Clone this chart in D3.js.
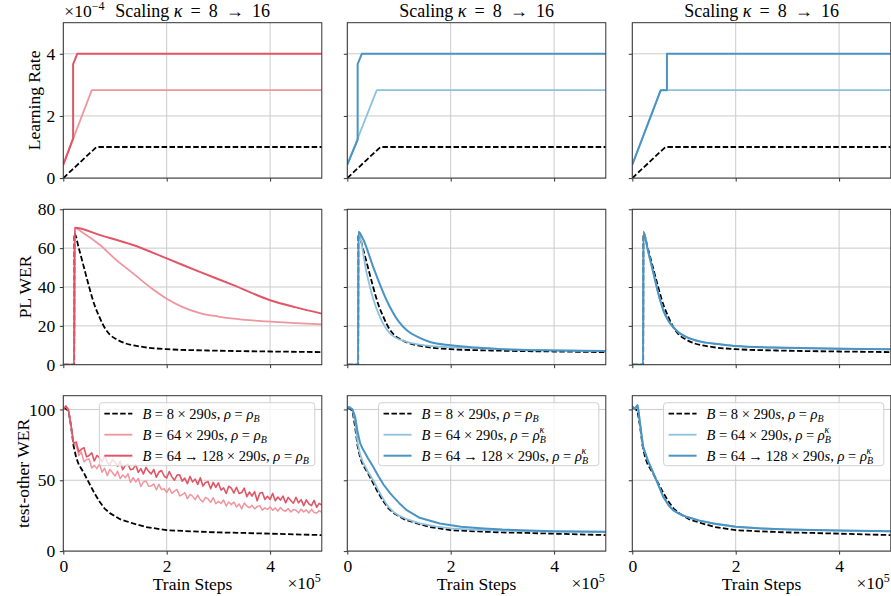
<!DOCTYPE html>
<html>
<head>
<meta charset="utf-8">
<script src="https://cdnjs.cloudflare.com/ajax/libs/d3/7.8.5/d3.min.js"></script>
<style>
	body { margin: 0; background: #fff; }
</style>
</head>
<body>
<div class="chart"></div>
<script>
	// ---- data (x in units of 1e5 train steps) ----

	// row 1: learning rate (x 1e-4)
	var lrBaseX = [0, 0.64, 5];
	var lrBaseY = [0, 1.0, 1.0];
	var lrRedLightX = [0, 0.55, 5];
	var lrRedLightY = [0.43, 2.83, 2.83];
	var lrRedDarkX = [0, 0.19, 0.19, 0.27, 5];
	var lrRedDarkY = [0.43, 1.28, 3.67, 4.0, 4.0];
	var lrBlueLightX = [0, 0.57, 5];
	var lrBlueLightY = [0.43, 2.83, 2.83];
	var lrBlueDarkX = [0, 0.2, 0.2, 0.28, 5];
	var lrBlueDarkY = [0.43, 1.23, 3.67, 4.0, 4.0];
	var lrLateLightX = [0, 0.55, 5];
	var lrLateLightY = [0.43, 2.83, 2.83];
	var lrLateDarkX = [0, 0.55, 0.67, 0.67, 5];
	var lrLateDarkY = [0.43, 2.83, 2.83, 4.0, 4.0];

	// row 2: PL WER
	var plBaseX = [0, 0.21, 0.215, 0.3, 0.4, 0.5, 0.6, 0.7, 0.8, 0.9, 1.05, 1.2, 1.5, 2.0, 3.0, 4.0, 5.0];
	var plBaseY = [0, 0, 67.6, 60, 50, 40, 31, 24.5, 19, 15.5, 12.8, 11, 9.3, 8.0, 7.2, 6.8, 6.5];
	var plRedLightX = [0, 0.21, 0.22, 0.4, 0.71, 1.0, 1.35, 1.7, 2.0, 2.3, 2.64, 3.0, 3.29, 3.6, 3.93, 4.5, 5.0];
	var plRedLightY = [0, 0, 70.3, 67.5, 61.6, 54.5, 47, 39.5, 34, 29.8, 26.6, 24.8, 23.7, 22.9, 22.3, 21.4, 20.8];
	var plRedDarkX = [0, 0.21, 0.22, 0.71, 1.35, 2.0, 2.64, 3.29, 4.0, 4.5, 5.0];
	var plRedDarkY = [0, 0, 70.5, 66.7, 61.6, 54.7, 47.8, 41.0, 33.2, 29.5, 26.3];
	var plBlueLightX = [0, 0.21, 0.215, 0.375, 0.5, 0.63, 0.83, 1.15, 1.5, 2.0, 3.0, 4.0, 5.0];
	var plBlueLightY = [0, 0, 67.5, 47, 34, 24.6, 16, 11.7, 10, 9.0, 8.0, 7.4, 7.0];
	var plBlueDarkX = [0, 0.21, 0.215, 0.3, 0.5, 0.76, 1.0, 1.15, 1.4, 1.6, 2.0, 2.5, 3.0, 4.0, 5.0];
	var plBlueDarkY = [0, 0, 68.4, 65, 50.4, 33.2, 22, 17.7, 13.8, 11.7, 10, 8.8, 8.0, 7.3, 7.0];
	var plLateX = [0, 0.21, 0.215, 0.3, 0.41, 0.5, 0.6, 0.7, 0.79, 0.9, 1.05, 1.3, 1.7, 2.0, 3.0, 4.0, 5.0];
	var plLateY = [0, 0, 68.4, 59, 47, 37, 28, 22.5, 19.4, 16.5, 14.2, 12, 10.5, 9.6, 8.7, 8.2, 7.9];

	// row 3: test-other WER
	var teBaseX = [0, 0.05, 0.1, 0.15, 0.2, 0.25, 0.3, 0.4, 0.5, 0.6, 0.7, 0.8, 0.9, 1.1, 1.35, 1.6, 2.0, 2.5, 3.0, 3.5, 4.0, 4.5, 5.0];
	var teBaseY = [101, 100.5, 99, 88, 74, 66, 61, 55, 48, 41, 35, 30, 26.8, 22.5, 19.5, 17, 14.8, 13.9, 13.2, 12.8, 12.3, 11.8, 11.3];
	var teNoisyX = [0, 0.05, 0.1, 0.15, 0.2, 0.25, 0.3, 0.35, 0.4, 0.45, 0.5, 0.55, 0.6, 0.65, 0.7, 0.75, 0.8, 0.85, 0.9, 0.95,
		1.0, 1.05, 1.1, 1.15, 1.2, 1.25, 1.3, 1.35, 1.4, 1.45, 1.5, 1.55, 1.6, 1.65, 1.7, 1.75, 1.8, 1.85, 1.9, 1.95,
		2.0, 2.05, 2.1, 2.15, 2.2, 2.25, 2.3, 2.35, 2.4, 2.45, 2.5, 2.55, 2.6, 2.65, 2.7, 2.75, 2.8, 2.85, 2.9, 2.95,
		3.0, 3.05, 3.1, 3.15, 3.2, 3.25, 3.3, 3.35, 3.4, 3.45, 3.5, 3.55, 3.6, 3.65, 3.7, 3.75, 3.8, 3.85, 3.9, 3.95,
		4.0, 4.05, 4.1, 4.15, 4.2, 4.25, 4.3, 4.35, 4.4, 4.45, 4.5, 4.55, 4.6, 4.65, 4.7, 4.75, 4.8, 4.85, 4.9, 4.95, 5.0];
	var teRedLightY = [101, 102, 99, 88,
		76, 74.5, 67.5, 70, 63, 64.7, 65, 58.7, 60.5, 58.2, 61.4, 55.7, 58.5, 53.3, 57.6, 55.5,
		53, 56.4, 51.3, 53.7, 51.7, 54.6, 48.5, 51.9, 48.8, 51.2, 45.6, 48.8, 49.5, 45.8, 46, 47.4, 43.3, 47.1, 43.4, 44,
		41.4, 44.5, 40.8, 42.3, 43.5, 39, 39.8, 41.3, 36.9, 40, 38.8, 36.3, 39.5, 36.3, 34.7, 37.9, 36.8, 34.4, 37.7, 33.4,
		35.1, 33.6, 36.1, 31.8, 34.7, 32.8, 34.6, 31.1, 33.3, 29.8, 34, 31.7, 30.6, 32.4, 29.8, 31.4, 32.1, 28.9, 30.5, 29.4,
		31.1, 28.8, 30.5, 28.2, 30.8, 28.8, 28.1, 30.1, 27.6, 29.3, 28.9, 27, 29.6, 27.7, 29.1, 26.9, 29.5, 27.3, 26.9, 28.6, 27.4];
	var teRedDarkY = [100, 102.5, 100, 89,
		76, 77, 70, 72, 73, 66.5, 67.5, 69.3, 63.6, 67.5, 66, 62.9, 67.3, 62.7, 60.7, 64.6,
		63, 60, 63.5, 57.5, 60.5, 61.4, 57.4, 57.9, 61, 55.6, 58.2, 54.4, 59.1, 56.3, 54.5, 57.6, 52.2, 55.8, 56.9, 53,
		51.6, 56.2, 52.4, 50, 53.7, 53.8, 49.4, 51.5, 47.6, 52.7, 48.8, 50.9, 47.1, 51.7, 45.9, 48.4, 49, 44, 48.5, 45,
		48.1, 43.1, 44.7, 40.7, 45.8, 44.4, 41, 45.1, 40.7, 41.3, 44.4, 38.5, 41.7, 38.8, 42, 35.6, 40.8, 41.4, 36.5, 38.7,
		36.5, 40.7, 35.5, 38.2, 36, 38.8, 34.1, 37.9, 35.7, 33.8, 38, 34.1, 36.3, 32, 36.2, 33.4, 32.1, 35.8, 31, 33.7, 32.5];
	var teBlueLightX = [0, 0.05, 0.1, 0.15, 0.2, 0.25, 0.3, 0.4, 0.5, 0.6, 0.7, 0.8, 0.9, 1.0, 1.15, 1.4, 1.7, 2.0, 2.5, 3.0, 4.0, 5.0];
	var teBlueLightY = [101, 102, 100, 92, 76, 68, 63, 56, 50, 43, 36.5, 31, 27.5, 25, 22.5, 19.5, 17.5, 16, 15, 14.4, 13.8, 13.5];
	var teBlueDarkX = [0, 0.05, 0.1, 0.15, 0.2, 0.25, 0.3, 0.4, 0.5, 0.6, 0.7, 0.83, 1.0, 1.15, 1.4, 1.79, 2.2, 2.64, 3.0, 3.5, 4.0, 4.5, 5.0];
	var teBlueDarkY = [102, 101, 100, 95, 84, 76, 72, 65.5, 59.5, 53, 47, 40.7, 34, 28.9, 23.5, 19.5, 17.2, 16, 15.2, 14.5, 14, 13.8, 13.6];
	var teLateX = [0, 0.05, 0.1, 0.12, 0.15, 0.21, 0.3, 0.41, 0.5, 0.6, 0.7, 0.79, 0.9, 1.05, 1.3, 1.6, 2.0, 2.5, 3.0, 4.0, 5.0];
	var teLateY = [102, 100.5, 103, 99, 90, 73.6, 64, 54.8, 47, 38.3, 32.5, 28.9, 26.5, 24.2, 21.5, 19.3, 17.2, 16, 15.3, 14.5, 14];

	// axis ticks
	var xTicks = [0, 2, 4];
	var lrTicks = [0, 2, 4];
	var plTicks = [0, 20, 40, 60, 80];
	var teTicks = [0, 50, 100];

	// legend labels
	var legendMid = ["8", "64", "64\u2009\u2192\u2009128"];

	// ---- layout ----
	var width = 891, height = 596;
	var colLeft = [63.3, 347.3, 632.3],
		rowTop = [22.7, 209.3, 395.7],
		panelW = 258.5,
		panelH = 155.4;
	var serif = "'Liberation Serif', 'Times New Roman', 'DejaVu Serif', serif";
	var fs = "17.5px";

	var cBlack = "#000000",
		cRedLight = "#f0959f",
		cRedDark = "#e15566",
		cBlueLight = "#8ec0e0",
		cBlueDark = "#4a94c4";

	var svg = d3.select(".chart")
		.append("svg")
			.attr("width", width)
			.attr("height", height)
			.attr("font-family", serif);

	var x = d3.scaleLinear().domain([0, 5]).range([0, panelW]);

	var rows = [
		{ domain: [0, 5], ticks: lrTicks, label: "Learning Rate", labelX: 40, curve: d3.curveLinear },
		{ domain: [0, 80], ticks: plTicks, label: "PL WER", labelX: 30.5, curve: d3.curveMonotoneX },
		{ domain: [0, 109.7], ticks: teTicks, label: "test-other WER", labelX: 28.5, curve: d3.curveLinear }
	];

	function ser(xs, ys, color, w, dash) {
		return { pts: xs.map(function(d, i) { return [d, ys[i]]; }), color: color, w: w, dash: dash };
	}
	var dash = "5.5,2.4";

	var panels = [
		// row 1
		[ [ser(lrBaseX, lrBaseY, cBlack, 1.8, dash), ser(lrRedLightX, lrRedLightY, cRedLight, 1.8), ser(lrRedDarkX, lrRedDarkY, cRedDark, 2)],
		  [ser(lrBaseX, lrBaseY, cBlack, 1.8, dash), ser(lrBlueLightX, lrBlueLightY, cBlueLight, 1.8), ser(lrBlueDarkX, lrBlueDarkY, cBlueDark, 2)],
		  [ser(lrBaseX, lrBaseY, cBlack, 1.8, dash), ser(lrLateLightX, lrLateLightY, cBlueLight, 1.8), ser(lrLateDarkX, lrLateDarkY, cBlueDark, 2)] ],
		// row 2
		[ [ser(plBaseX, plBaseY, cBlack, 1.8, dash), ser(plRedLightX, plRedLightY, cRedLight, 1.8), ser(plRedDarkX, plRedDarkY, cRedDark, 2)],
		  [ser(plBaseX, plBaseY, cBlack, 1.8, dash), ser(plBlueLightX, plBlueLightY, cBlueLight, 1.8), ser(plBlueDarkX, plBlueDarkY, cBlueDark, 2)],
		  [ser(plBaseX, plBaseY, cBlack, 1.8, dash), ser(plLateX, plLateY, cBlueLight, 1.8), ser(plLateX, plLateY, cBlueDark, 2)] ],
		// row 3
		[ [ser(teBaseX, teBaseY, cBlack, 1.8, dash), ser(teNoisyX, teRedLightY, cRedLight, 1.5), ser(teNoisyX, teRedDarkY, cRedDark, 1.6)],
		  [ser(teBaseX, teBaseY, cBlack, 1.8, dash), ser(teBlueLightX, teBlueLightY, cBlueLight, 1.8), ser(teBlueDarkX, teBlueDarkY, cBlueDark, 2)],
		  [ser(teBaseX, teBaseY, cBlack, 1.8, dash), ser(teLateX, teLateY, cBlueLight, 1.8), ser(teLateX, teLateY, cBlueDark, 2)] ]
	];

	// clip
	svg.append("defs").append("clipPath")
		.attr("id", "clip")
		.append("rect")
			.attr("width", panelW)
			.attr("height", panelH);

	rows.forEach(function(row, r) {
		var y = d3.scaleLinear().domain(row.domain).range([panelH, 0]);
		var line = d3.line()
			.x(function(d) { return x(d[0]); })
			.y(function(d) { return y(d[1]); })
			.curve(row.curve);

		// y label
		svg.append("text")
			.attr("transform", "translate(" + row.labelX + "," + (rowTop[r] + panelH / 2) + ") rotate(-90)")
			.attr("text-anchor", "middle")
			.attr("font-size", fs)
			.text(row.label);

		colLeft.forEach(function(cx, c) {
			var g = svg.append("g")
				.attr("transform", "translate(" + cx + "," + rowTop[r] + ")");

			// grid
			g.selectAll(".vgrid").data(xTicks).enter()
				.append("line")
					.attr("x1", function(d) { return x(d); })
					.attr("x2", function(d) { return x(d); })
					.attr("y1", 0).attr("y2", panelH)
					.attr("stroke", "#cbcbcb").attr("stroke-width", 1);
			g.selectAll(".hgrid").data(row.ticks).enter()
				.append("line")
					.attr("y1", function(d) { return y(d); })
					.attr("y2", function(d) { return y(d); })
					.attr("x1", 0).attr("x2", panelW)
					.attr("stroke", "#cbcbcb").attr("stroke-width", 1);

			// axes
			var xAxisCall = d3.axisBottom(x).tickValues(xTicks).tickSize(3.5).tickSizeOuter(0).tickPadding(4.5)
				.tickFormat(r === 2 ? function(d) { return d; } : "");
			var xAxis = g.append("g")
				.attr("transform", "translate(0," + panelH + ")")
				.call(xAxisCall);
			var yAxisCall = d3.axisLeft(y).tickValues(row.ticks).tickSize(3.5).tickSizeOuter(0).tickPadding(4.5)
				.tickFormat(c === 0 ? function(d) { return d; } : "");
			var yAxis = g.append("g").call(yAxisCall);
			[xAxis, yAxis].forEach(function(a) {
				a.attr("font-family", serif).attr("font-size", fs);
				a.select(".domain").remove();
				a.selectAll("line").attr("stroke", "#333");
				a.selectAll("text").attr("fill", "#000");
			});

			// series
			var plot = g.append("g").attr("clip-path", "url(#clip)");
			panels[r][c].forEach(function(s) {
				plot.append("path")
					.attr("d", line(s.pts))
					.attr("fill", "none")
					.attr("stroke", s.color)
					.attr("stroke-width", s.w)
					.attr("stroke-dasharray", s.dash || null)
					.attr("stroke-linejoin", "round");
			});

			// spines
			g.append("rect")
				.attr("width", panelW)
				.attr("height", panelH)
				.attr("fill", "none")
				.attr("stroke", "#333")
				.attr("stroke-width", 1);

			// titles
			if (r === 0) {
				var t = svg.append("text")
					.attr("x", cx + panelW / 2)
					.attr("y", 17)
					.attr("text-anchor", "middle")
					.attr("font-size", "18px");
				t.append("tspan").text("Scaling ");
				t.append("tspan").attr("font-style", "italic").text("\u03ba");
				t.append("tspan").text(" \u2009=\u2009 8 \u2009\u2192\u2009 16");
			}

			// x label + offset
			if (r === 2) {
				svg.append("text")
					.attr("x", cx + panelW / 2)
					.attr("y", 590)
					.attr("text-anchor", "middle")
					.attr("font-size", fs)
					.text("Train Steps");
				var o = svg.append("text")
					.attr("x", cx + panelW - 1)
					.attr("y", 589)
					.attr("text-anchor", "end")
					.attr("font-size", fs);
				o.append("tspan").text("\u00d710");
				o.append("tspan").attr("font-size", "12px").attr("dy", -7).text("5");

				drawLegend(g, c > 0);
			}
		});
	});

	// offset text for learning rate
	var off = svg.append("text")
		.attr("x", colLeft[0] + 1)
		.attr("y", 17)
		.attr("font-size", fs);
	off.append("tspan").text("\u00d710");
	off.append("tspan").attr("font-size", "12px").attr("dy", -7).text("\u22124");

	function drawLegend(g, kappa) {
		var lg = g.append("g");
		var box = lg.append("rect")
			.attr("fill", "#fff")
			.attr("fill-opacity", 0.8)
			.attr("stroke", "#d0d0d0")
			.attr("rx", 3);
		var colors = kappa ? [cBlack, cBlueLight, cBlueDark] : [cBlack, cRedLight, cRedDark];
		var maxW = 0;
		legendMid.forEach(function(mid, i) {
			var yy = 11 + i * 21;
			lg.append("line")
				.attr("x1", 5).attr("x2", 33)
				.attr("y1", yy).attr("y2", yy)
				.attr("stroke", colors[i])
				.attr("stroke-width", i === 2 ? 2 : 1.8)
				.attr("stroke-dasharray", i === 0 ? dash : null);
			var t = lg.append("text")
				.attr("x", 43)
				.attr("y", yy + 5)
				.attr("font-size", "14.5px");
			t.append("tspan").attr("font-style", "italic").text("B");
			t.append("tspan").text(" = " + mid + " \u00d7 290");
			t.append("tspan").attr("font-style", "italic").text("s");
			t.append("tspan").text(", ");
			t.append("tspan").attr("font-style", "italic").text("\u03c1");
			t.append("tspan").text(" = ");
			t.append("tspan").attr("font-style", "italic").text("\u03c1");
			t.append("tspan").attr("font-style", "italic").attr("font-size", "10px").attr("dy", 3).text("B");
			if (kappa && i > 0) {
				t.append("tspan").attr("font-style", "italic").attr("font-size", "10px")
					.attr("dx", -6.5).attr("dy", -10).text("\u03ba");
			}
			maxW = Math.max(maxW, t.node().getComputedTextLength());
		});
		var bw = 43 + maxW + 6, bh = 63;
		box.attr("width", bw).attr("height", bh);
		lg.attr("transform", "translate(" + (panelW - 7 - bw) + ",7)");
	}
</script>
</body>
</html>
